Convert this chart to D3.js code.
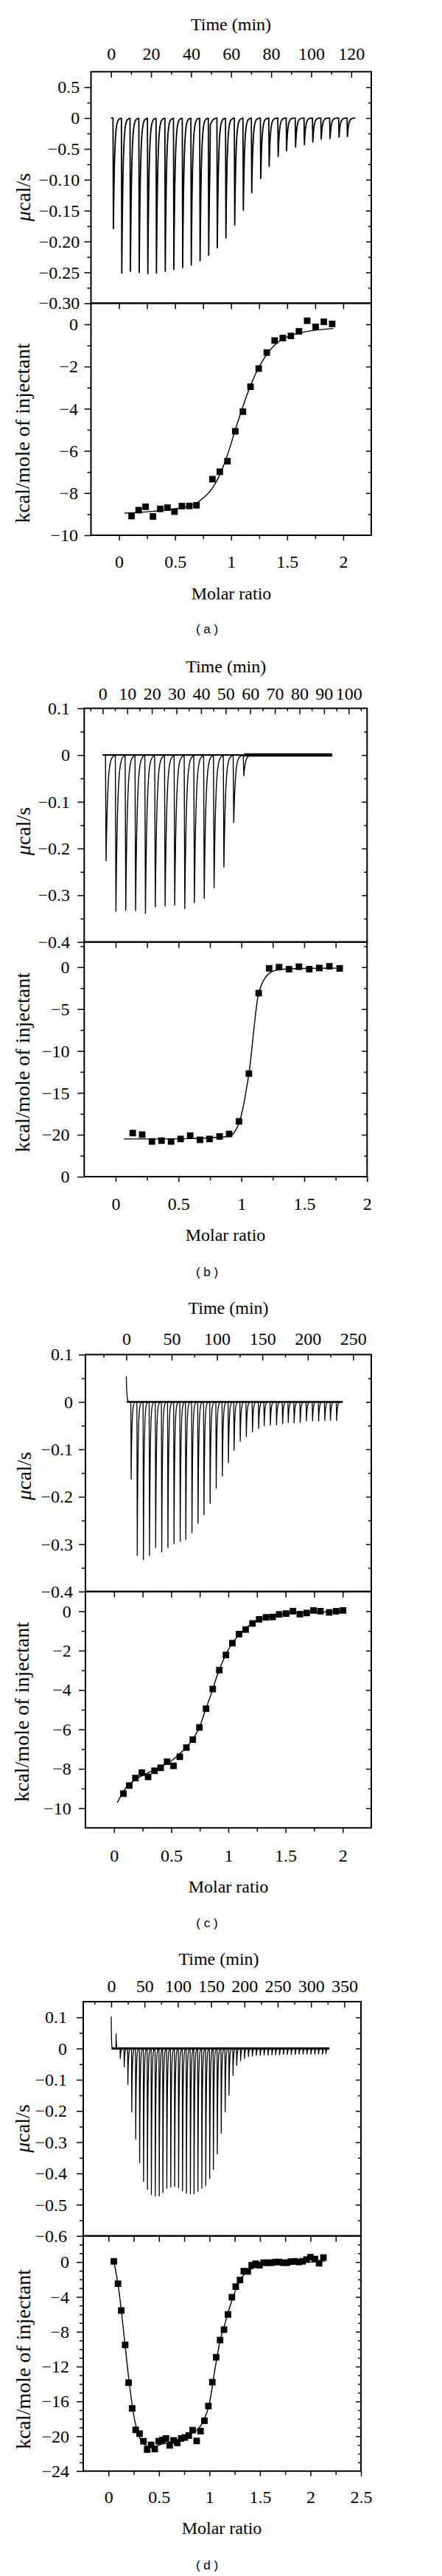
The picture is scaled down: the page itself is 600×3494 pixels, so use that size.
<!DOCTYPE html>
<html><head><meta charset="utf-8">
<script src="https://cdn.jsdelivr.net/npm/d3@7"></script>
<style>body{margin:0;background:#fff}</style>
</head><body><svg id="c" width="600" height="3494"></svg>
<script>
// ================= DATA =================
// ---- Panel (a) ----
const aRun = [0, 122];
const aTimeTicks = [0, 20, 40, 60, 80, 100, 120];
const aTimeMinor = [-10, 10, 30, 50, 70, 90, 110, 130];
const aRateTicks = [0.05, 0, -0.05, -0.10, -0.15, -0.20, -0.25, -0.30];
const aRateLabels = ["0.5", "0", "−0.5", "−0.10", "−0.15", "−0.20", "−0.25", "−0.30"];
const aRateMinor = [0.025, -0.025, -0.075, -0.125, -0.175, -0.225, -0.275];
const aInjTime = [1.2,5.4,9.7,14.1,18.4,22.7,27.1,31.4,35.8,40.1,44.5,48.8,53.1,57.4,61.8,66.1,70.3,74.8,79.0,83.5,87.7,92.2,96.6,100.8,105.0,109.4,113.9,118.1];
const aInjRate = [-0.179,-0.251,-0.248,-0.250,-0.252,-0.251,-0.248,-0.245,-0.242,-0.238,-0.231,-0.222,-0.210,-0.194,-0.173,-0.149,-0.121,-0.098,-0.078,-0.062,-0.053,-0.047,-0.043,-0.039,-0.034,-0.033,-0.031,-0.030];
const aSpikeTime = [49.6];
const aSpikeRate = [0.048];
const aMolarTicks = [0, 0.5, 1, 1.5, 2];
const aMolarLabels = ["0", "0.5", "1", "1.5", "2"];
const aMolarMinor = [-0.25, 0.25, 0.75, 1.25, 1.75, 2.25];
const aHeatTicks = [0, -2, -4, -6, -8, -10];
const aHeatLabels = ["0", "−2", "−4", "−6", "−8", "−10"];
const aHeatMinor = [-1, -3, -5, -7, -9];
const aMolar = [0.112,0.175,0.237,0.303,0.368,0.432,0.495,0.561,0.627,0.691,0.833,0.899,0.967,1.037,1.105,1.173,1.246,1.318,1.388,1.461,1.533,1.605,1.678,1.754,1.827,1.901];
const aHeat = [-9.09,-8.81,-8.65,-9.11,-8.75,-8.69,-8.88,-8.62,-8.61,-8.58,-7.34,-6.99,-6.49,-5.07,-4.14,-2.96,-2.10,-1.34,-0.77,-0.65,-0.55,-0.33,0.17,-0.12,0.12,0.02];
const aFitMolar = [0.05,0.3,0.5,0.6,0.69,0.755,0.833,0.9,0.967,1.037,1.105,1.173,1.246,1.318,1.388,1.461,1.533,1.605,1.75,1.91];
const aFitHeat = [-8.95,-8.87,-8.75,-8.65,-8.48,-8.22,-7.77,-7.12,-6.2,-5.0,-3.9,-2.9,-2.05,-1.42,-0.98,-0.7,-0.53,-0.41,-0.28,-0.2];

// ---- Panel (b) ----
const bRun = [0, 93.3];
const bTimeTicks = [0, 10, 20, 30, 40, 50, 60, 70, 80, 90, 100];
const bTimeMinor = [-5, 5, 15, 25, 35, 45, 55, 65, 75, 85, 95, 105];
const bRateTicks = [0.1, 0, -0.1, -0.2, -0.3, -0.4];
const bRateLabels = ["0.1", "0", "−0.1", "−0.2", "−0.3", "−0.4"];
const bRateMinor = [0.05, -0.05, -0.15, -0.25, -0.35];
const bInjTime = [1.4,5.4,9.4,13.4,17.4,21.4,25.4,29.3,33.4,37.3,41.3,45.3,49.3,53.3,57.4];
const bInjRate = [-0.226,-0.334,-0.331,-0.332,-0.338,-0.324,-0.322,-0.320,-0.328,-0.315,-0.306,-0.283,-0.239,-0.144,-0.044];
const bSpikeTime = [];
const bSpikeRate = [];
const bMolarTicks = [0, 0.5, 1, 1.5, 2];
const bMolarLabels = ["0", "0.5", "1", "1.5", "2"];
const bMolarMinor = [0.25, 0.75, 1.25, 1.75];
const bHeatTicks = [0, -5, -10, -15, -20, -25];
const bHeatLabels = ["0", "−5", "−10", "−15", "−20", "0"];
const bHeatMinor = [2.5, -2.5, -7.5, -12.5, -17.5, -22.5];
const bMolar = [0.136,0.211,0.289,0.365,0.441,0.517,0.593,0.671,0.747,0.827,0.903,0.981,1.06,1.138,1.221,1.3,1.379,1.458,1.54,1.62,1.70,1.782];
const bHeat = [-19.8,-19.98,-20.8,-20.7,-20.8,-20.5,-20.1,-20.6,-20.5,-20.2,-19.9,-18.4,-12.7,-3.1,-0.15,0.0,-0.24,0.05,-0.24,-0.1,0.1,-0.15];
const bFitMolar = [0.064,0.4,0.9,0.981,1.06,1.138,1.221,1.3,1.5,1.782];
const bFitHeat = [-20.5,-20.5,-20.2,-18.6,-12.7,-3.1,-0.75,-0.3,-0.15,-0.12];

// ---- Panel (c) ----
const cRun = [0, 238.5];
const cTimeTicks = [0, 50, 100, 150, 200, 250];
const cTimeMinor = [-25, 25, 75, 125, 175, 225];
const cRateTicks = [0.1, 0, -0.1, -0.2, -0.3, -0.4];
const cRateLabels = ["0.1", "0", "−0.1", "−0.2", "−0.3", "−0.4"];
const cRateMinor = [0.05, -0.05, -0.15, -0.25, -0.35];
const cInjTime = [5.4,12.1,18.9,25.6,32.4,39.1,45.9,52.6,59.4,65.6,72.4,79.1,85.6,92.4,99.1,105.9,112.6,118.8,125.6,132.3,139.1,145.9,152.0,158.8,165.6,172.3,178.5,185.0,191.7,198.5,205.3,212.0,218.8,225.0,231.8];
const cInjRate = [-0.163,-0.324,-0.333,-0.324,-0.307,-0.316,-0.308,-0.299,-0.294,-0.290,-0.276,-0.256,-0.238,-0.214,-0.182,-0.156,-0.128,-0.102,-0.083,-0.073,-0.063,-0.056,-0.050,-0.049,-0.048,-0.046,-0.043,-0.044,-0.043,-0.040,-0.040,-0.040,-0.039,-0.039,-0.039];
const cSpikeTime = [0];
const cSpikeRate = [0.054];
const cMolarTicks = [0, 0.5, 1, 1.5, 2];
const cMolarLabels = ["0", "0.5", "1", "1.5", "2"];
const cMolarMinor = [0.25, 0.75, 1.25, 1.75];
const cHeatTicks = [0, -2, -4, -6, -8, -10];
const cHeatLabels = ["0", "−2", "−4", "−6", "−8", "−10"];
const cHeatMinor = [-1, -3, -5, -7, -9];
const cMolar = [0.082,0.133,0.187,0.243,0.298,0.354,0.408,0.464,0.52,0.575,0.633,0.689,0.747,0.805,0.863,0.921,0.979,1.035,1.093,1.151,1.211,1.269,1.329,1.387,1.444,1.505,1.565,1.625,1.685,1.745,1.805,1.882,1.943,2.003];
const cHeat = [-9.26,-8.85,-8.47,-8.19,-8.41,-8.10,-7.95,-7.64,-7.85,-7.39,-6.92,-6.52,-5.9,-4.95,-3.95,-2.99,-2.22,-1.62,-1.16,-0.93,-0.62,-0.41,-0.31,-0.29,-0.16,-0.12,0.0,-0.15,-0.09,0.04,0.0,-0.06,0.0,0.04];
const cFitMolar = [0.028,0.1,0.2,0.3,0.4,0.5,0.6,0.7,0.75,0.8,0.85,0.9,0.95,1.0,1.1,1.2,1.3,1.4,1.6,2.0];
const cFitHeat = [-9.72,-9.0,-8.5,-8.2,-7.9,-7.6,-7.1,-6.4,-5.85,-5.0,-4.2,-3.3,-2.55,-1.95,-1.15,-0.65,-0.38,-0.22,-0.08,-0.02];

// ---- Panel (d) ----
const dRun = [0, 327.5];
const dTimeTicks = [0, 50, 100, 150, 200, 250, 300, 350];
const dTimeMinor = [-25, 25, 75, 125, 175, 225, 275, 325, 375];
const dRateTicks = [0.1, 0, -0.1, -0.2, -0.3, -0.4, -0.5, -0.6];
const dRateLabels = ["0.1", "0", "−0.1", "−0.2", "−0.3", "−0.4", "−0.5", "−0.6"];
const dRateMinor = [0.05, -0.05, -0.15, -0.25, -0.35, -0.45, -0.55];
const dInjTime = [13.6,19.5,25.0,30.9,36.8,42.7,48.6,54.4,60.3,66.2,72.1,77.6,83.5,89.4,95.3,101.2,107.1,112.9,118.9,124.4,130.2,136.1,142.0,147.9,153.4,159.3,165.2,171.1,176.9,182.9,188.4,194.3,200.1,206.0,211.9,217.8,223.7,229.6,235.5,241.4,246.9,252.8,258.6,264.5,270.4,276.3,282.2,288.1,293.9,299.9,305.7,311.3,317.2,322.3];
const dInjRate = [-0.032,-0.059,-0.115,-0.203,-0.290,-0.365,-0.425,-0.451,-0.467,-0.472,-0.472,-0.461,-0.447,-0.443,-0.441,-0.445,-0.455,-0.463,-0.465,-0.465,-0.457,-0.447,-0.439,-0.416,-0.387,-0.337,-0.271,-0.202,-0.149,-0.086,-0.055,-0.039,-0.032,-0.026,-0.024,-0.022,-0.022,-0.021,-0.021,-0.020,-0.020,-0.020,-0.019,-0.019,-0.019,-0.019,-0.018,-0.018,-0.018,-0.018,-0.018,-0.018,-0.018,-0.017];
const dSpikeTime = [0, 7.4];
const dSpikeRate = [0.102, 0.047];
const dMolarTicks = [0, 0.5, 1, 1.5, 2, 2.5];
const dMolarLabels = ["0", "0.5", "1", "1.5", "2", "2.5"];
const dMolarMinor = [0.25, 0.75, 1.25, 1.75, 2.25];
const dHeatTicks = [0, -4, -8, -12, -16, -20, -24];
const dHeatLabels = ["0", "−4", "−8", "−12", "−16", "−20", "−24"];
const dHeatMinor = [2,1,-1,-2,-3,-5,-6,-7,-9,-10,-11,-13,-14,-15,-17,-18,-19,-21,-22,-23];
const dMolar = [0.053,0.094,0.126,0.165,0.199,0.235,0.269,0.308,0.346,0.383,0.422,0.458,0.497,0.533,0.569,0.606,0.644,0.681,0.72,0.756,0.795,0.833,0.873,0.911,0.95,0.989,1.028,1.066,1.105,1.144,1.183,1.222,1.26,1.302,1.34,1.379,1.418,1.457,1.495,1.535,1.573,1.612,1.651,1.69,1.728,1.767,1.806,1.845,1.884,1.922,1.961,2.0,2.044,2.085,2.128];
const dHeat = [0.08,-2.49,-5.57,-9.52,-13.85,-16.8,-19.27,-19.7,-20.57,-21.53,-20.99,-21.47,-20.57,-20.43,-20.25,-21.05,-20.48,-20.76,-20.25,-20.14,-19.92,-19.3,-20.54,-19.41,-18.22,-16.53,-13.79,-10.93,-8.96,-7.77,-6.02,-4.04,-2.83,-2.07,-1.05,-1.08,-0.37,-0.2,-0.37,-0.08,-0.08,-0.08,0.0,0.0,-0.08,-0.08,0.05,0.08,0.0,0.08,0.28,0.56,0.34,-0.14,0.51];
const dFitMolar = [0.053,0.1,0.15,0.2,0.25,0.3,0.35,0.4,0.45,0.5,0.6,0.7,0.8,0.9,0.95,1.0,1.05,1.1,1.15,1.2,1.25,1.3,1.35,1.4,1.5,1.6,1.8,2.0,2.14];
const dFitHeat = [0.08,-3.0,-8.0,-13.3,-17.6,-19.9,-20.9,-21.2,-21.2,-21.0,-20.7,-20.3,-19.8,-19.0,-18.0,-16.2,-12.6,-9.3,-7.2,-5.2,-3.5,-2.1,-1.35,-0.9,-0.45,-0.25,-0.1,0.0,0.1];

// ================= LAYOUT (positions / styles) =================
const layoutA = {left:123.5,right:504,top:97.3,mid:411.3,bottom:726,tDom:[-10,130],rDom:[-0.30,0.075],mDom:[-0.25,2.25],hDom:[-10,1],
  topPad:16,rateLabelRight:108.3,heatLabelRight:106,botBase:770,timeTitle:[313.5,40.7],molarTitle:[314,813],rateTitle:[41,267.5],heatTitle:[40,587.5],caption:[281,859.4],
  tau:0.6,lead:0.2,spikeTau:0.5,traceW:1.8,bands:[]};
const layoutB = {left:114.3,right:498.3,top:960.7,mid:1277.7,bottom:1596,tDom:[-7.5,107.5],rDom:[-0.4,0.1],mDom:[-0.25,2],hDom:[-25,3],
  topPad:11.7,rateLabelRight:95,heatLabelRight:94.5,botBase:1640.7,timeTitle:[306.7,912.4],molarTitle:[306,1683.3],rateTitle:[41,1127.5],heatTitle:[39.5,1441],caption:[281,1731],
  tau:0.65,lead:0.25,spikeTau:0.5,traceW:1.4,bands:[[0,57.5,2],[57.5,93.3,4.5]]};
const layoutC = {left:116,right:504,top:1837.3,mid:2158.7,bottom:2479.3,tDom:[-45,270],rDom:[-0.4,0.1],mDom:[-0.25,2.25],hDom:[-11,1],
  topPad:13.3,rateLabelRight:99,heatLabelRight:96.7,botBase:2525,timeTitle:[310,1781.7],molarTitle:[310,2566.7],rateTitle:[41.5,2002],heatTitle:[39,2322],caption:[281,2613.7],
  tau:0.8,lead:0.4,spikeTau:0.6,traceW:1.3,bands:[[0.5,238.5,2.5]]};
const layoutD = {left:113,right:490,top:2715,mid:3032.7,bottom:3351.7,tDom:[-42,375],rDom:[-0.6,0.15],mDom:[-0.25,2.5],hDom:[-24,3],
  topPad:13,rateLabelRight:91,heatLabelRight:94,botBase:3395,timeTitle:[297,2664.7],molarTitle:[301,3437],rateTitle:[40,2887],heatTitle:[41,3200],caption:[281,3484.5],
  tau:0.8,lead:0.4,spikeTau:0.4,traceW:1.3,bands:[[0.5,327.5,3]]};

const panels = [
  {L:layoutA,run:aRun,timeTicks:aTimeTicks,timeMinor:aTimeMinor,rateTicks:aRateTicks,rateLabels:aRateLabels,rateMinor:aRateMinor,injTime:aInjTime,injRate:aInjRate,spikeTime:aSpikeTime,spikeRate:aSpikeRate,
   molarTicks:aMolarTicks,molarLabels:aMolarLabels,molarMinor:aMolarMinor,heatTicks:aHeatTicks,heatLabels:aHeatLabels,heatMinor:aHeatMinor,molar:aMolar,heat:aHeat,fitMolar:aFitMolar,fitHeat:aFitHeat,caption:"( a )"},
  {L:layoutB,run:bRun,timeTicks:bTimeTicks,timeMinor:bTimeMinor,rateTicks:bRateTicks,rateLabels:bRateLabels,rateMinor:bRateMinor,injTime:bInjTime,injRate:bInjRate,spikeTime:bSpikeTime,spikeRate:bSpikeRate,
   molarTicks:bMolarTicks,molarLabels:bMolarLabels,molarMinor:bMolarMinor,heatTicks:bHeatTicks,heatLabels:bHeatLabels,heatMinor:bHeatMinor,molar:bMolar,heat:bHeat,fitMolar:bFitMolar,fitHeat:bFitHeat,caption:"( b )"},
  {L:layoutC,run:cRun,timeTicks:cTimeTicks,timeMinor:cTimeMinor,rateTicks:cRateTicks,rateLabels:cRateLabels,rateMinor:cRateMinor,injTime:cInjTime,injRate:cInjRate,spikeTime:cSpikeTime,spikeRate:cSpikeRate,
   molarTicks:cMolarTicks,molarLabels:cMolarLabels,molarMinor:cMolarMinor,heatTicks:cHeatTicks,heatLabels:cHeatLabels,heatMinor:cHeatMinor,molar:cMolar,heat:cHeat,fitMolar:cFitMolar,fitHeat:cFitHeat,caption:"( c )"},
  {L:layoutD,run:dRun,timeTicks:dTimeTicks,timeMinor:dTimeMinor,rateTicks:dRateTicks,rateLabels:dRateLabels,rateMinor:dRateMinor,injTime:dInjTime,injRate:dInjRate,spikeTime:dSpikeTime,spikeRate:dSpikeRate,
   molarTicks:dMolarTicks,molarLabels:dMolarLabels,molarMinor:dMolarMinor,heatTicks:dHeatTicks,heatLabels:dHeatLabels,heatMinor:dHeatMinor,molar:dMolar,heat:dHeat,fitMolar:dFitMolar,fitHeat:dFitHeat,caption:"( d )"}
];

// ================= DRAWING =================
const SERIF = '"Liberation Serif","Times New Roman",Times,serif';
const SANS = '"Liberation Sans",Arial,sans-serif';
const svg = d3.select("#c");
svg.append("rect").attr("width",600).attr("height",3494).attr("fill","#fff");

function inside(vals, dom){
  const lo = Math.min(dom[0],dom[1]), hi = Math.max(dom[0],dom[1]);
  return vals.filter(v => v > lo + 1e-9 && v < hi - 1e-9);
}
function styleAxis(sel){
  sel.attr("font-size",24).attr("font-family",SERIF);
  sel.select(".domain").remove();
  sel.selectAll(".tick line").attr("stroke","#000").attr("stroke-width",1.5);
  sel.selectAll(".tick text").attr("fill","#000");
}

function drawPanel(p){
  const L = p.L;
  const g = svg.append("g");
  const xT = d3.scaleLinear().domain(L.tDom).range([L.left, L.right]);
  const yR = d3.scaleLinear().domain(L.rDom).range([L.mid, L.top]);
  const xM = d3.scaleLinear().domain(L.mDom).range([L.left, L.right]);
  const yH = d3.scaleLinear().domain(L.hDom).range([L.bottom, L.mid]);

  // ---- raw thermogram ----
  const events = p.injTime.map((t,i)=>({t, v:p.injRate[i], tau:L.tau, lead:L.lead}))
    .concat(p.spikeTime.map((t,i)=>({t, v:p.spikeRate[i], tau:L.spikeTau, lead:(t<=p.run[0]?0:L.lead)})));
  const steps = [0.12,0.25,0.4,0.6,0.8,1,1.3,1.7,2.2,2.8,3.5,4.5,6];
  let ts = [p.run[0], p.run[1]];
  events.forEach(e => { ts.push(e.t - e.lead, e.t); steps.forEach(k => ts.push(e.t + k*e.tau)); });
  ts = Array.from(new Set(ts.filter(t => t >= p.run[0] && t <= p.run[1]))).sort((a,b)=>a-b);
  const sig = t => d3.sum(events, e => {
    if (t < e.t - e.lead) return 0;
    if (t <= e.t) return e.lead > 0 ? e.v*(t-(e.t-e.lead))/e.lead : e.v;
    return e.v*Math.exp(-(t-e.t)/e.tau);
  });
  L.bands.forEach(b => {
    g.append("line").attr("x1",xT(b[0])).attr("x2",xT(b[1])).attr("y1",yR(0)).attr("y2",yR(0))
      .attr("stroke","#000").attr("stroke-width",b[2]);
  });
  g.append("path").datum(ts).attr("fill","none").attr("stroke","#000").attr("stroke-width",L.traceW)
    .attr("stroke-linejoin","round")
    .attr("d", d3.line().x(t=>xT(t)).y(t=>yR(sig(t))));

  // ---- integrated heats ----
  g.append("path").datum(p.fitMolar).attr("fill","none").attr("stroke","#000").attr("stroke-width",1.4)
    .attr("d", d3.line().x(d=>xM(d)).y((d,i)=>yH(p.fitHeat[i])).curve(d3.curveMonotoneX));
  g.selectAll(null).data(p.molar).join("path")
    .attr("transform",(d,i)=>`translate(${xM(d)},${yH(p.heat[i])})`)
    .attr("d", d3.symbol(d3.symbolSquare, 78)).attr("fill","#000");

  // ---- frames ----
  g.append("rect").attr("x",L.left).attr("y",L.top).attr("width",L.right-L.left).attr("height",L.mid-L.top)
    .attr("fill","none").attr("stroke","#000").attr("stroke-width",2);
  g.append("rect").attr("x",L.left).attr("y",L.mid).attr("width",L.right-L.left).attr("height",L.bottom-L.mid)
    .attr("fill","none").attr("stroke","#000").attr("stroke-width",2);

  // ---- axes: top time ----
  g.append("g").attr("transform",`translate(0,${L.top})`)
    .call(d3.axisTop(xT).tickValues(p.timeTicks).tickSize(-8).tickPadding(L.topPad).tickFormat(d=>String(d))).call(styleAxis);
  g.append("g").attr("transform",`translate(0,${L.top})`)
    .call(d3.axisTop(xT).tickValues(inside(p.timeMinor,L.tDom)).tickSize(-4).tickFormat("")).call(styleAxis);

  // ---- rate axis left/right ----
  const rLab = new Map(p.rateTicks.map((v,i)=>[v,p.rateLabels[i]]));
  g.append("g").attr("transform",`translate(${L.left},0)`)
    .call(d3.axisLeft(yR).tickValues(p.rateTicks).tickSize(9).tickPadding(L.left-L.rateLabelRight-9).tickFormat(d=>rLab.get(d))).call(styleAxis);
  g.append("g").attr("transform",`translate(${L.left},0)`)
    .call(d3.axisLeft(yR).tickValues(inside(p.rateMinor,L.rDom)).tickSize(5).tickFormat("")).call(styleAxis);
  g.append("g").attr("transform",`translate(${L.right},0)`)
    .call(d3.axisLeft(yR).tickValues(inside(p.rateTicks,L.rDom)).tickSize(7).tickFormat("")).call(styleAxis);
  g.append("g").attr("transform",`translate(${L.right},0)`)
    .call(d3.axisLeft(yR).tickValues(inside(p.rateMinor,L.rDom)).tickSize(4).tickFormat("")).call(styleAxis);

  // ---- heat axis left/right ----
  const hLab = new Map(p.heatTicks.map((v,i)=>[v,p.heatLabels[i]]));
  g.append("g").attr("transform",`translate(${L.left},0)`)
    .call(d3.axisLeft(yH).tickValues(p.heatTicks).tickSize(9).tickPadding(L.left-L.heatLabelRight-9).tickFormat(d=>hLab.get(d))).call(styleAxis);
  g.append("g").attr("transform",`translate(${L.left},0)`)
    .call(d3.axisLeft(yH).tickValues(inside(p.heatMinor,L.hDom)).tickSize(5).tickFormat("")).call(styleAxis);
  g.append("g").attr("transform",`translate(${L.right},0)`)
    .call(d3.axisLeft(yH).tickValues(inside(p.heatTicks,L.hDom)).tickSize(7).tickFormat("")).call(styleAxis);
  g.append("g").attr("transform",`translate(${L.right},0)`)
    .call(d3.axisLeft(yH).tickValues(inside(p.heatMinor,L.hDom)).tickSize(4).tickFormat("")).call(styleAxis);

  // ---- molar axis bottom + ticks along the shared line ----
  const mLab = new Map(p.molarTicks.map((v,i)=>[v,p.molarLabels[i]]));
  g.append("g").attr("transform",`translate(0,${L.bottom})`)
    .call(d3.axisBottom(xM).tickValues(p.molarTicks).tickSize(7).tickPadding(L.botBase-L.bottom-7-17).tickFormat(d=>mLab.get(d))).call(styleAxis);
  g.append("g").attr("transform",`translate(0,${L.bottom})`)
    .call(d3.axisBottom(xM).tickValues(inside(p.molarMinor,L.mDom)).tickSize(5).tickFormat("")).call(styleAxis);
  g.append("g").attr("transform",`translate(0,${L.mid})`)
    .call(d3.axisBottom(xM).tickValues(inside(p.molarTicks.concat(p.molarMinor),L.mDom)).tickSize(8).tickFormat("")).call(styleAxis);

  // ---- titles ----
  g.append("text").attr("x",L.timeTitle[0]).attr("y",L.timeTitle[1]).attr("text-anchor","middle")
    .attr("font-family",SERIF).attr("font-size",24).text("Time (min)");
  g.append("text").attr("x",L.molarTitle[0]).attr("y",L.molarTitle[1]).attr("text-anchor","middle")
    .attr("font-family",SERIF).attr("font-size",24).text("Molar ratio");
  const rt = g.append("text").attr("transform",`translate(${L.rateTitle[0]},${L.rateTitle[1]}) rotate(-90)`)
    .attr("text-anchor","middle").attr("font-family",SERIF).attr("font-size",28);
  rt.append("tspan").attr("font-style","italic").text("μ");
  rt.append("tspan").text("cal/s");
  g.append("text").attr("transform",`translate(${L.heatTitle[0]},${L.heatTitle[1]}) rotate(-90)`)
    .attr("text-anchor","middle").attr("font-family",SERIF).attr("font-size",28).text("kcal/mole of injectant");
  g.append("text").attr("x",L.caption[0]).attr("y",L.caption[1]).attr("text-anchor","middle")
    .attr("font-family",SANS).attr("font-size",17).text(p.caption);
}

panels.forEach(drawPanel);
</script></body></html>
